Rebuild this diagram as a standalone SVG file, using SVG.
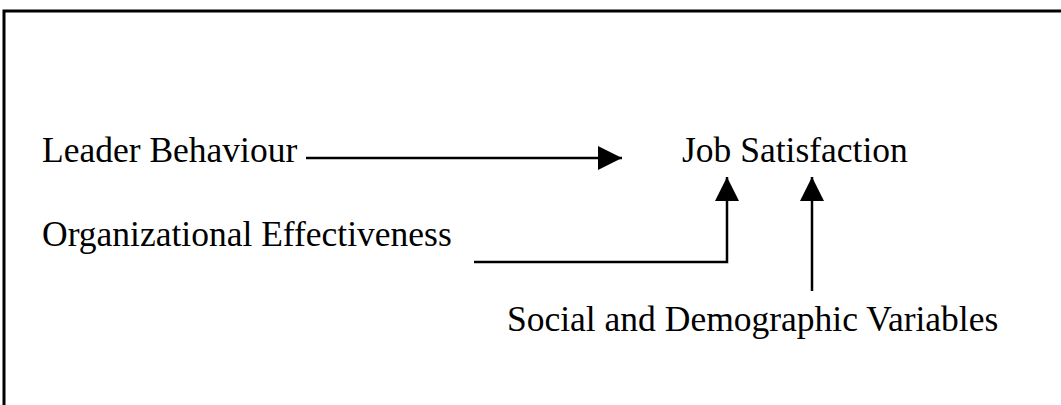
<svg xmlns="http://www.w3.org/2000/svg" width="1061" height="405" viewBox="0 0 1061 405">
  <style>
    .label { font-family: "Liberation Serif", "Times New Roman", serif; font-size: 35.5px; fill: #000; }
    .wire { fill: none; stroke: #000; stroke-width: 2.5; }
    .frame { fill: none; stroke: #000; stroke-width: 3; }
  </style>
  <defs>
    <marker id="head" markerUnits="userSpaceOnUse" markerWidth="26" markerHeight="24" refX="24" refY="12" orient="auto">
      <path d="M0,0 L24,12 L0,24 Z" fill="#000"/>
    </marker>
  </defs>

  <rect width="1061" height="405" fill="#fff"/>
  <!-- open frame: left and top edges -->
  <path class="frame" d="M4,405 V11 H1061"/>

  <g id="leader-behaviour">
    <text class="label" x="42" y="162">Leader Behaviour</text>
  </g>
  <g id="job-satisfaction">
    <text class="label" x="682" y="162">Job Satisfaction</text>
  </g>
  <g id="organizational-effectiveness">
    <text class="label" x="42" y="246">Organizational Effectiveness</text>
  </g>
  <g id="social-demographic">
    <text class="label" x="507" y="331">Social and Demographic Variables</text>
  </g>

  <g id="connectors">
    <path class="wire" d="M306,158 H622" marker-end="url(#head)"/>
    <path class="wire" d="M474,262 H727 V177" marker-end="url(#head)"/>
    <path class="wire" d="M812,291 V177" marker-end="url(#head)"/>
  </g>
</svg>
